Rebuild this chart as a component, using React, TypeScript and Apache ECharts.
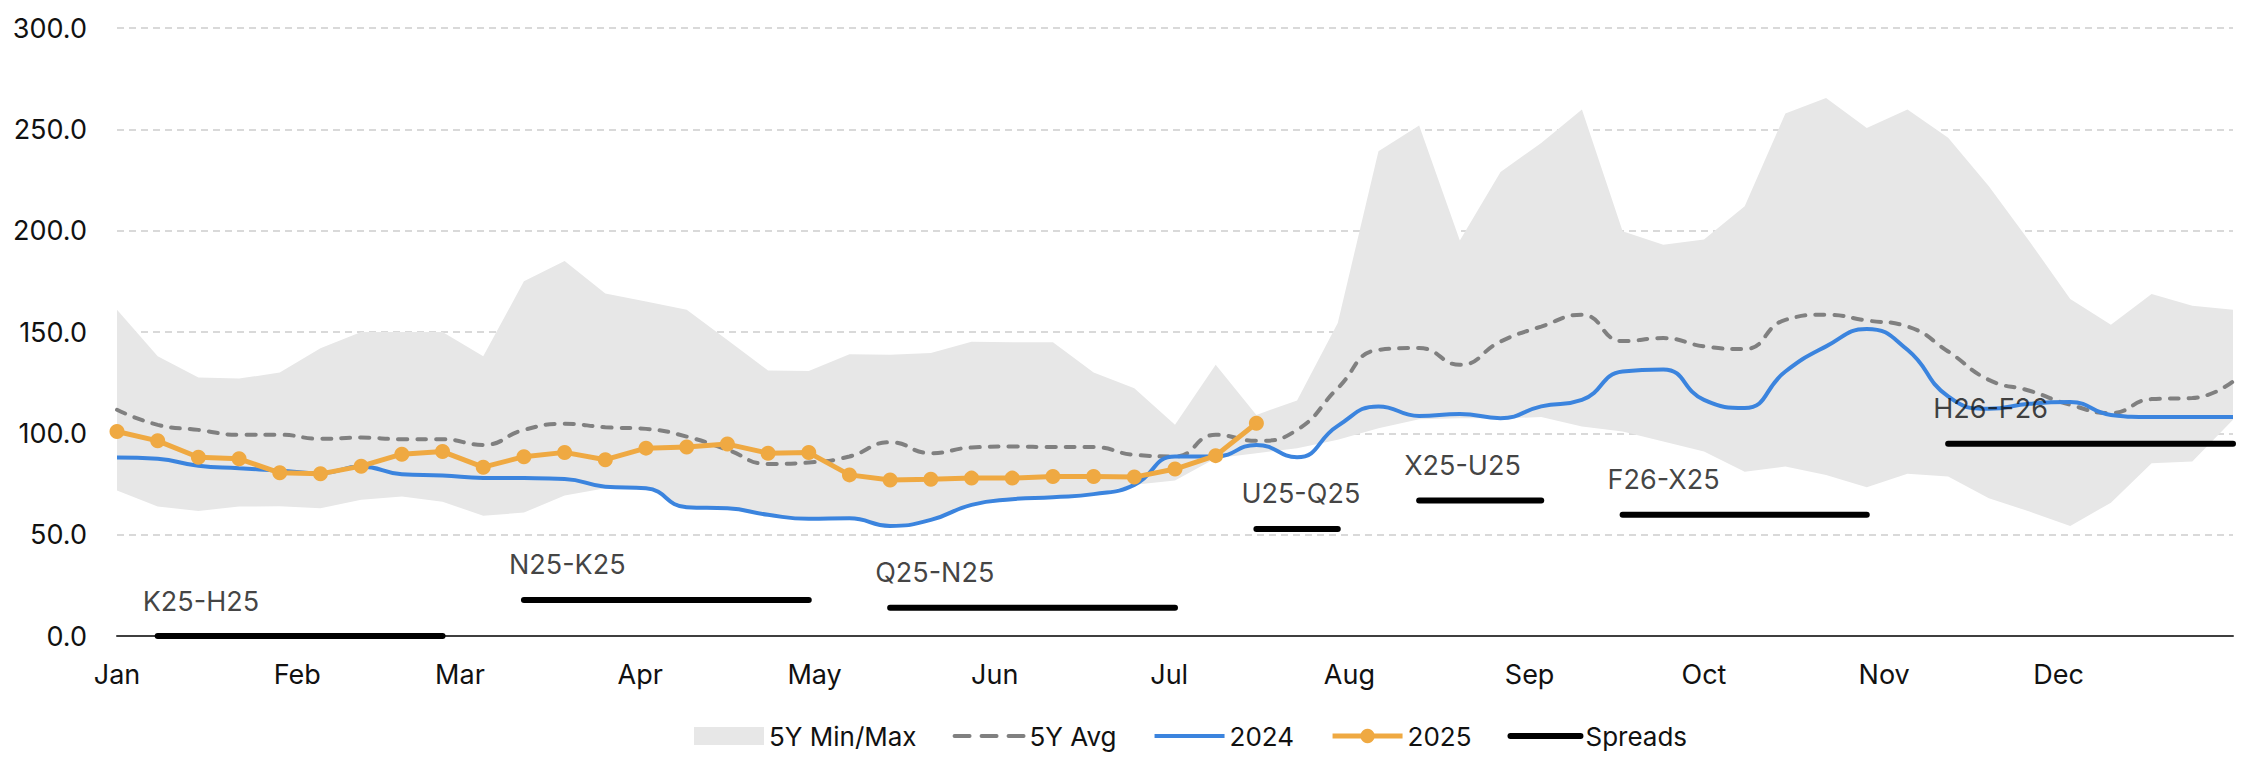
import React, { useEffect, useRef } from "react";
import * as echarts from "echarts";

// Weekly x positions (day of year, Jan 1 = 0)
const weekDays = [
  0, 7, 14, 21, 28, 35, 42, 49, 56, 63, 70, 77, 84, 91, 98, 105, 112, 119, 126, 133,
  140, 147, 154, 161, 168, 175, 182, 189, 196, 203, 210, 217, 224, 231, 238, 245, 252,
  259, 266, 273, 280, 287, 294, 301, 308, 315, 322, 329, 336, 343, 350, 357, 364,
];

const max5y = [
  161, 138, 127.6, 127, 130, 142, 150, 150, 150, 138, 175, 185, 169, 165, 161, 146, 131,
  130.7, 139, 138.8, 139.6, 145.2, 145, 145, 130, 122.3, 104.2, 133.8, 109.1, 116.2, 154.4,
  239.2, 251.9, 195.1, 229, 243.3, 259.8, 199.7, 193.1, 195.6, 212, 257.8, 265.5, 250.7,
  259.8, 245.8, 221.9, 194.7, 166.3, 153.6, 168.7, 163, 161,
];

const min5y = [
  71.8, 63.9, 61.7, 63.9, 64, 63, 67.2, 68.8, 66.3, 59.3, 60.9, 69.3, 72.9, 72.9, 63.5, 63,
  59.8, 57.8, 58.1, 54.3, 57.3, 64.7, 67.5, 68.5, 70, 74.6, 76.7, 87.7, 90.2, 92.7, 96.8,
  102.5, 106.9, 107.4, 107.4, 108, 103.4, 100.9, 96, 91, 81.1, 83.6, 79.5, 73.4, 80, 78.7,
  68, 61.4, 54.3, 65.8, 85.3, 86.1, 106.7,
];

const avg5y = [
  111.6, 104.2, 101.7, 99.3, 99.3, 97.3, 97.9, 97.1, 97.1, 94.3, 101.7, 104.7, 103, 102.2,
  98.4, 91.9, 84.9, 85.6, 88.6, 95.6, 90.2, 93, 93.5, 93.2, 93.2, 89.4, 88.6, 99.3, 96.3,
  101.7, 122.3, 141.2, 142.1, 133.8, 145.3, 152.7, 158.5, 145.5, 147, 142.9, 141.6, 156,
  158.5, 155.7, 152.7, 140.4, 126.4, 121, 114.1, 110, 116.9, 117.4, 125.6,
];

const y2024 = [
  88.1, 87.4, 84, 82.8, 81.6, 80.3, 83.6, 79.8, 79.2, 78, 77.9, 77.5, 73.7, 72.9, 63.5, 63,
  59.8, 57.8, 58.1, 54.3, 57.3, 64.7, 67.5, 68.5, 70, 74.6, 88.6, 88.6, 94.3, 88.2, 103.7,
  113.3, 108.6, 109.6, 107.5, 113.3, 116.5, 130.5, 131.5, 116.5, 112.5, 130.5, 142.9, 151.5,
  141.2, 118.2, 112.1, 114.6, 115.4, 109.1, 108, 108, 108,
];

const y2025 = [
  100.9, 96.3, 88.2, 87.4, 80.5, 80, 83.8, 89.7, 91, 83.3, 88.5, 90.6, 87, 92.7, 93.2, 94.7,
  90.2, 90.5, 79.5, 77, 77.4, 77.9, 77.9, 78.7, 78.7, 78.4, 82.4, 89, 105,
];

const spreadNames = ["K25-H25", "N25-K25", "Q25-N25", "U25-Q25", "X25-U25", "F26-X25", "H26-F26"];
const spreadStart = [7, 70, 133, 196, 224, 259, 315];
const spreadEnd = [56, 119, 182, 210, 245, 301, 364];
const spreadValue = [0, 17.8, 14, 52.8, 66.8, 59.8, 94.8];

const monthNames = ["Jan", "Feb", "Mar", "Apr", "May", "Jun", "Jul", "Aug", "Sep", "Oct", "Nov", "Dec"];
const monthStartDays = [0, 31, 59, 90, 120, 151, 181, 212, 243, 273, 304, 334];

const yTicks = [0, 50, 100, 150, 200, 250, 300];

const FONT = "Inter";
const TEXT = "#111111";
const BAND = "#e7e7e7";
const AVG = "#808080";
const BLUE = "#3b84de";
const ORANGE = "#efa942";

export default function App() {
  const ref = useRef<HTMLDivElement>(null);

  useEffect(() => {
    document.body.style.margin = "0";
    if (!ref.current) return;
    const chart = echarts.init(ref.current, undefined, { renderer: "svg" });

    const spreadSeries = spreadNames.map((n, i) => ({
      name: "Spreads",
      type: "line",
      data: [
        [spreadStart[i], spreadValue[i]],
        [spreadEnd[i], spreadValue[i]],
      ],
      symbol: "none",
      lineStyle: { color: "#000", width: 6, cap: "round" },
      itemStyle: { color: "#000" },
      z: 6,
      silent: true,
    }));

    const option: any = {
      animation: false,
      textStyle: { fontFamily: FONT },
      grid: { left: 117, right: 9, top: 28, bottom: 121, outerBoundsMode: "none", containLabel: false },
      legend: {
        left: 689,
        top: 718,
        itemWidth: 70,
        itemHeight: 18,
        itemGap: 36,
        textStyle: { fontSize: 26, fontFamily: FONT, color: TEXT },
        data: [
          { name: "5Y Min/Max", icon: "rect" },
          { name: "5Y Avg", itemStyle: { opacity: 0 }, lineStyle: { width: 4, type: [15, 12], color: AVG } },
          { name: "2024", itemStyle: { opacity: 0 }, lineStyle: { width: 4, color: BLUE } },
          { name: "2025", lineStyle: { width: 5, color: ORANGE } },
          { name: "Spreads", itemStyle: { opacity: 0 }, lineStyle: { width: 6, color: "#000" } },
        ],
      },
      xAxis: {
        type: "value",
        min: 0,
        max: 364,
        axisLine: { show: true, lineStyle: { color: "#3f3f3f", width: 2 } },
        axisTick: { show: false },
        splitLine: { show: false },
        axisLabel: {
          customValues: monthStartDays,
          formatter: (v: number) => monthNames[monthStartDays.indexOf(v)] ?? "",
          fontSize: 27,
          fontFamily: FONT,
          color: TEXT,
          margin: 25,
        },
      },
      yAxis: {
        type: "value",
        min: yTicks[0],
        max: yTicks[yTicks.length - 1],
        interval: 50,
        axisLine: { show: false },
        axisTick: { show: false },
        splitLine: { show: true, lineStyle: { color: "#d9d9d9", width: 2, type: [7, 5] } },
        axisLabel: {
          formatter: (v: number) => v.toFixed(1),
          fontSize: 27,
          fontFamily: FONT,
          color: TEXT,
          margin: 30,
        },
      },
      series: [
        {
          name: "5Y Min/Max",
          type: "custom",
          data: weekDays.map((d, i) => [d, min5y[i], max5y[i]]),
          encode: { x: 0, y: [1, 2] },
          itemStyle: { color: BAND },
          silent: true,
          z: 1,
          renderItem: (params: any, api: any) => {
            if (params.dataIndex !== 0) return null;
            const top = weekDays.map((d, i) => api.coord([d, max5y[i]]));
            const bottom = weekDays.map((d, i) => api.coord([d, min5y[i]])).reverse();
            return {
              type: "polygon",
              shape: { points: top.concat(bottom) },
              style: { fill: BAND, stroke: null },
            };
          },
        },
        {
          name: "5Y Avg",
          type: "line",
          smooth: 0.5,
          data: weekDays.map((d, i) => [d, avg5y[i]]),
          symbol: "none",
          lineStyle: { color: AVG, width: 4, type: [9, 10], cap: "round" },
          itemStyle: { color: AVG },
          z: 3,
        },
        {
          name: "2024",
          type: "line",
          smooth: 0.5,
          data: weekDays.map((d, i) => [d, y2024[i]]),
          symbol: "none",
          lineStyle: { color: BLUE, width: 4 },
          itemStyle: { color: BLUE },
          z: 4,
        },
        {
          name: "2025",
          type: "line",
          data: y2025.map((v, i) => [weekDays[i], v]),
          symbol: "circle",
          symbolSize: 15,
          showSymbol: true,
          lineStyle: { color: ORANGE, width: 5 },
          itemStyle: { color: ORANGE },
          z: 5,
        },
        ...spreadSeries,
        {
          name: "spreadLabels",
          type: "scatter",
          data: spreadNames.map((n, i) => ({ name: n, value: [spreadStart[i], spreadValue[i]] })),
          symbolSize: 2,
          itemStyle: { color: "rgba(0,0,0,0)" },
          label: {
            show: true,
            formatter: "{b}",
            position: [-14, -34],
            align: "left",
            verticalAlign: "middle",
            fontSize: 27,
            fontFamily: FONT,
            color: TEXT,
          },
          silent: true,
          z: 7,
        },
      ],
    };

    chart.setOption(option);
    return () => chart.dispose();
  }, []);

  return <div ref={ref} style={{ width: 2242, height: 757 }} />;
}
